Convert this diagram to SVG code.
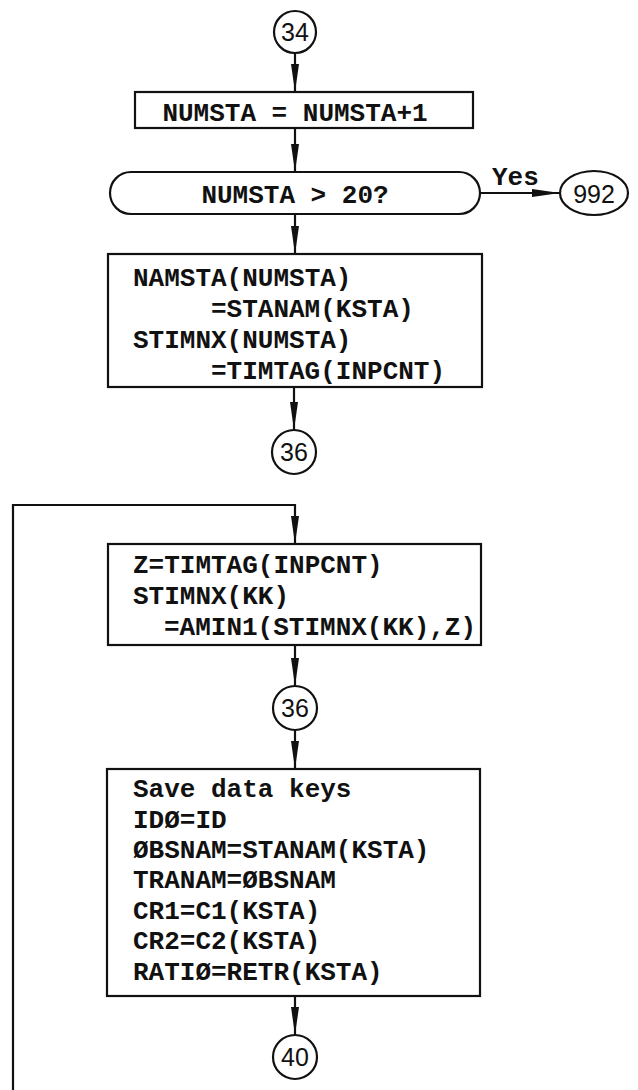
<svg xmlns="http://www.w3.org/2000/svg" width="638" height="1090" viewBox="0 0 638 1090">
  <style>
    .box { fill: #fff; stroke: #111; stroke-width: 2.2; }
    .ln { fill: none; stroke: #111; stroke-width: 2.2; }
    .tt { font-family: "Liberation Mono", "DejaVu Sans Mono", monospace; font-weight: bold; font-size: 26px; fill: #111; }
    .hand { font-family: "Liberation Sans", "DejaVu Sans", sans-serif; font-size: 25px; fill: #111; text-anchor: middle; }
  </style>
  <defs>
    <marker id="arr" viewBox="0 0 28 10" refX="28" refY="5" markerWidth="28" markerHeight="10" markerUnits="userSpaceOnUse" orient="auto">
      <path d="M0,1 L28,5 L0,9 Z" fill="#111"/>
    </marker>
  </defs>

  <rect width="638" height="1090" fill="#fff"/>

  <!-- connectors -->
  <g id="connectors">
    <line class="ln" x1="295" y1="53" x2="295" y2="92" marker-end="url(#arr)"/>
    <line class="ln" x1="295" y1="128" x2="295" y2="172" marker-end="url(#arr)"/>
    <line class="ln" x1="295" y1="214" x2="295" y2="254" marker-end="url(#arr)"/>
    <line class="ln" x1="480" y1="193" x2="560" y2="193" marker-end="url(#arr)"/>
    <line class="ln" x1="294" y1="387" x2="294" y2="430" marker-end="url(#arr)"/>
    <polyline class="ln" points="13,1090 13,505 295,505 295,544" marker-end="url(#arr)"/>
    <line class="ln" x1="295" y1="645" x2="295" y2="686" marker-end="url(#arr)"/>
    <line class="ln" x1="295" y1="730" x2="295" y2="769" marker-end="url(#arr)"/>
    <line class="ln" x1="295" y1="996" x2="295" y2="1035" marker-end="url(#arr)"/>
    <text class="tt" x="492" y="185" font-size="24">Yes</text>
  </g>

  <g id="c34">
    <circle class="box" cx="295" cy="32" r="21"/>
    <text class="hand" x="295" y="41">34</text>
  </g>

  <g id="incr">
    <rect class="box" x="135" y="92" width="338" height="36"/>
    <text class="tt" x="295" y="121" text-anchor="middle">NUMSTA = NUMSTA+1</text>
  </g>

  <g id="limit">
    <rect class="box" x="110" y="172" width="370" height="42" rx="21" ry="21"/>
    <text class="tt" x="295" y="203" text-anchor="middle">NUMSTA &gt; 20?</text>
  </g>

  <g id="c992">
    <ellipse class="box" cx="594" cy="193" rx="34" ry="22"/>
    <text class="hand" x="594" y="203" font-size="28">992</text>
  </g>

  <g id="store">
    <rect class="box" x="108" y="254" width="374" height="133"/>
    <text class="tt" x="133" y="286">NAMSTA(NUMSTA)</text>
    <text class="tt" x="211" y="317">=STANAM(KSTA)</text>
    <text class="tt" x="133" y="348">STIMNX(NUMSTA)</text>
    <text class="tt" x="211" y="379">=TIMTAG(INPCNT)</text>
  </g>

  <g id="c36a">
    <circle class="box" cx="294" cy="452" r="22"/>
    <text class="hand" x="294" y="461">36</text>
  </g>

  <g id="minimum">
    <rect class="box" x="108" y="544" width="373" height="101"/>
    <text class="tt" x="133" y="573">Z=TIMTAG(INPCNT)</text>
    <text class="tt" x="133" y="604">STIMNX(KK)</text>
    <text class="tt" x="164" y="635">=AMIN1(STIMNX(KK),Z)</text>
  </g>

  <g id="c36b">
    <circle class="box" cx="295" cy="708" r="22"/>
    <text class="hand" x="295" y="717">36</text>
  </g>

  <g id="keys">
    <rect class="box" x="107" y="769" width="373" height="227"/>
    <text class="tt" x="133" y="797">Save data keys</text>
    <text class="tt" x="133" y="828">IDØ=ID</text>
    <text class="tt" x="133" y="858">ØBSNAM=STANAM(KSTA)</text>
    <text class="tt" x="133" y="888">TRANAM=ØBSNAM</text>
    <text class="tt" x="133" y="919">CR1=C1(KSTA)</text>
    <text class="tt" x="133" y="949">CR2=C2(KSTA)</text>
    <text class="tt" x="133" y="980">RATIØ=RETR(KSTA)</text>
  </g>

  <g id="c40">
    <circle class="box" cx="295" cy="1057" r="22"/>
    <text class="hand" x="295" y="1066">40</text>
  </g>
</svg>
